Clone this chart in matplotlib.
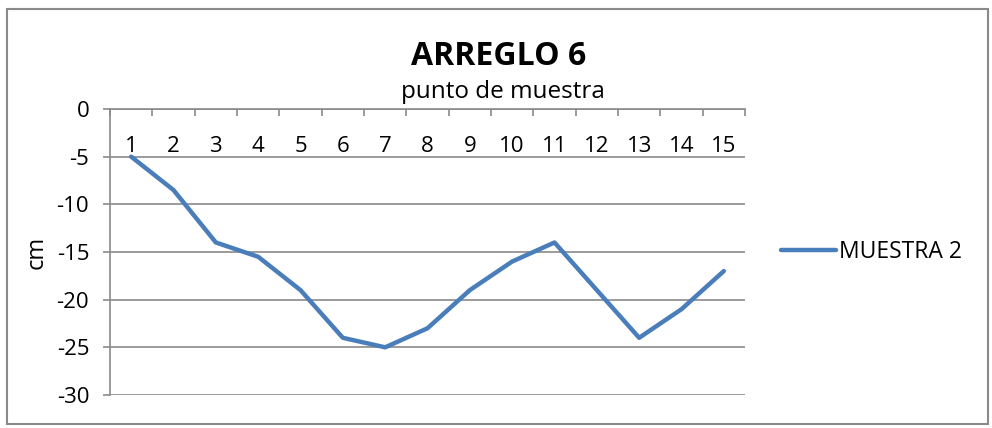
import matplotlib
matplotlib.use("Agg")
import matplotlib.pyplot as plt
from matplotlib.patches import Rectangle

# data
puntos = [1, 2, 3, 4, 5, 6, 7, 8, 9, 10, 11, 12, 13, 14, 15]
muestra2 = [-5, -8.5, -14, -15.5, -19, -24, -25, -23, -19, -16, -14, -19, -24, -21, -17]
yticks = [0, -5, -10, -15, -20, -25, -30]

plt.rcParams['font.family'] = ['Open Sans', 'DejaVu Sans']
gray = '#8a8a8a'

fig = plt.figure(figsize=(9.92, 4.28), dpi=100)
ax = fig.add_axes([110/992, 33/428, 635/992, 286/428])

ax.plot(puntos, muestra2, color='#4A7EBB', lw=3.2, solid_joinstyle='round',
        solid_capstyle='round', label='MUESTRA 2', zorder=3)

ax.set_xlim(0.5, 15.5)
ax.set_ylim(-30, 0)
ax.set_yticks(yticks)
ax.set_yticklabels([str(v) for v in yticks])
ax.yaxis.grid(True, color=gray, lw=1.2)
ax.set_axisbelow(True)
ax.tick_params(axis='y', length=5, width=1.2, color=gray, pad=10, labelsize=16)

# category axis sits at 0 (top), tick marks between categories
ax.set_xticks([p + 0.5 for p in [0] + puntos])
ax.set_xticklabels([])
ax.xaxis.set_ticks_position('top')
ax.tick_params(axis='x', direction='in', length=5, width=1.2, color=gray)
for p in puntos:
    ax.text(p, -5, str(p), ha='center', va='bottom', fontsize=16)

for s in ['right', 'bottom']:
    ax.spines[s].set_visible(False)
for s in ['left', 'top']:
    ax.spines[s].set_color(gray)
    ax.spines[s].set_linewidth(1.2)

ax.set_ylabel('cm', fontsize=17, labelpad=6)

fig.text(499/992, 1 - 65/428, 'ARREGLO 6', ha='center', va='baseline',
         fontsize=23, fontweight='bold')
fig.text(503/992, 1 - 98/428, 'punto de muestra', ha='center', va='baseline', fontsize=17.5)

fig.legend(loc='center left', bbox_to_anchor=(781/992, 1 - 252/428), frameon=False,
           fontsize=16.5, handlelength=2.4, handletextpad=0.15, borderpad=0,
           borderaxespad=0)

fig.patches.append(Rectangle((7/992, 4/428), 981/992, 415/428, transform=fig.transFigure,
                             fill=False, ec=gray, lw=1.5))

fig.savefig('out.png', dpi=100)
